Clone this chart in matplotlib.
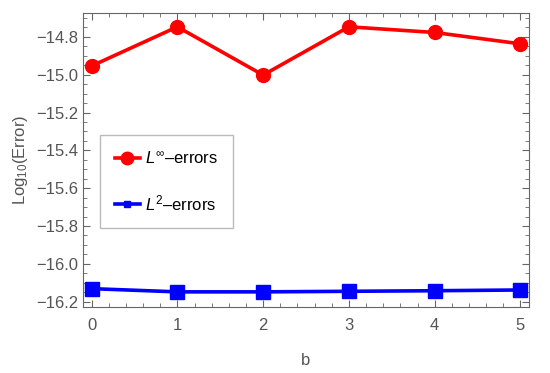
import matplotlib
matplotlib.use('Agg')

import matplotlib.pyplot as plt
from matplotlib.ticker import MultipleLocator

plt.rcParams['font.family'] = ['Liberation Sans', 'DejaVu Sans']
plt.rcParams['mathtext.fontset'] = 'custom'
plt.rcParams['mathtext.rm'] = 'Liberation Sans'
plt.rcParams['mathtext.it'] = 'Liberation Sans:italic'

b = [0, 1, 2, 3, 4, 5]
linf_err = [-14.954, -14.747, -15.002, -14.747, -14.777, -14.837]
l2_err = [-16.131, -16.148, -16.148, -16.145, -16.142, -16.138]

gray = '#666666'
txt = '#555555'

fig = plt.figure(figsize=(5.5, 3.73), dpi=100)
ax = fig.add_axes([83/550, 1 - 307/373, (529-83)/550, (307-13)/373])

ax.plot(b, linf_err, color='#ff0000', lw=2.6, marker='o', ms=10, label=r'$L^{\infty}$–errors')
ax.plot(b, l2_err, color='#0000ff', lw=2.6, marker='s', ms=10, label=r'$L^{2}$–errors')

ax.set_xlim(-0.1, 5.1)
ax.set_ylim(-16.228, -14.674)
ax.xaxis.set_major_locator(MultipleLocator(1))
ax.xaxis.set_minor_locator(MultipleLocator(0.2))
ax.yaxis.set_major_locator(MultipleLocator(0.2))
ax.yaxis.set_minor_locator(MultipleLocator(0.05))
ax.yaxis.set_major_formatter(plt.FuncFormatter(lambda v, p: f'{v:.1f}'.replace('-', '\u2212')))

ax.tick_params(which='both', direction='in', top=True, right=True, color=gray, labelcolor=txt, labelsize=12)
ax.tick_params(which='major', length=5)
ax.tick_params(which='minor', length=3)
ax.tick_params(axis='x', pad=8)
for s in ax.spines.values():
    s.set_color(gray)

ax.set_xlabel('b', color=txt, fontsize=12, labelpad=14)
ax.set_ylabel(r'Log$_{10}$(Error)', color=txt, fontsize=12)

leg = ax.legend(loc='upper left', bbox_to_anchor=(0.038, 0.585), fontsize=12, frameon=True,
                fancybox=False, edgecolor='#aaaaaa', handlelength=1.5, handletextpad=0.3,
                borderpad=0.9, labelspacing=1.6, borderaxespad=0)
for t in leg.get_texts():
    t.set_color('black')
leg.legend_handles[0].set_markersize(9)
leg.legend_handles[1].set_markersize(5)

fig.savefig('out.png', dpi=100)
